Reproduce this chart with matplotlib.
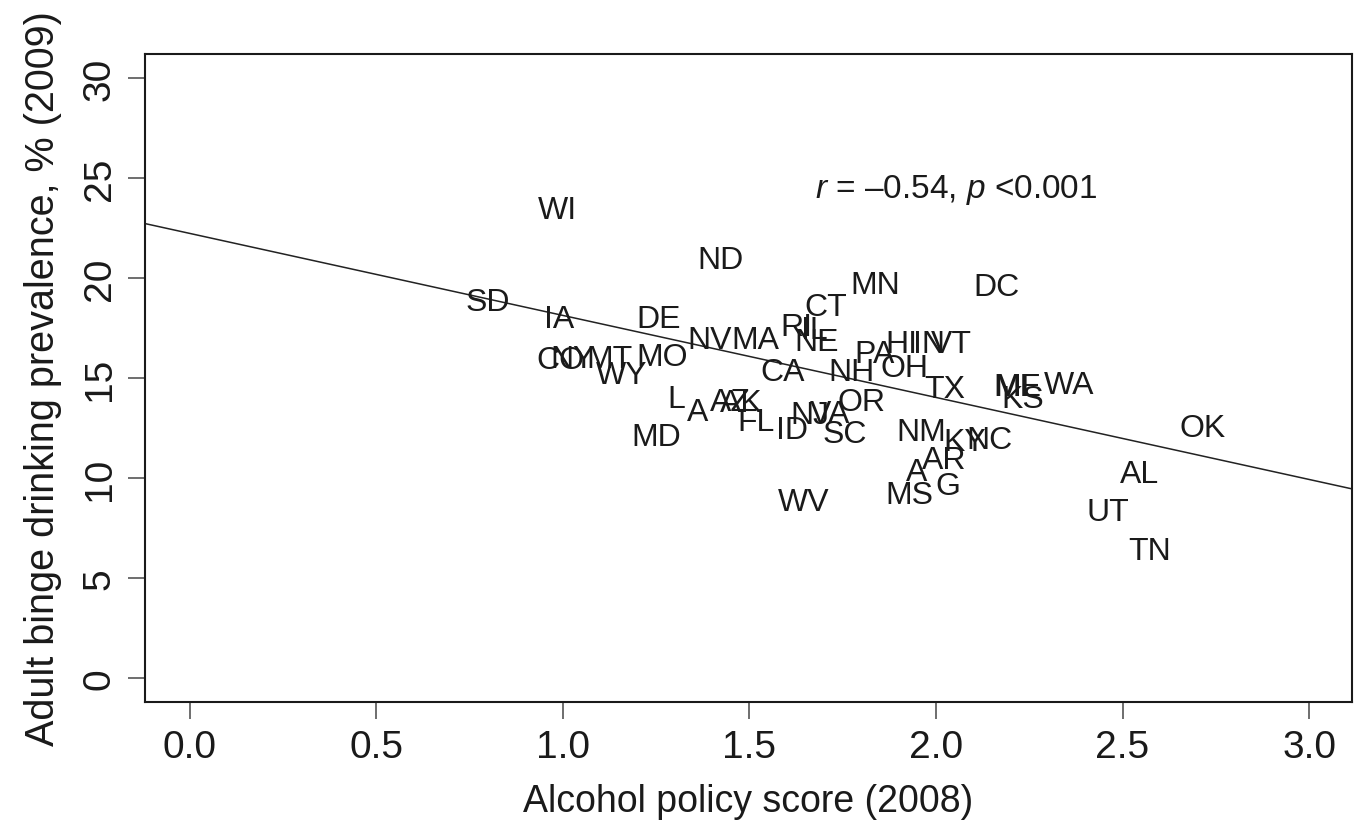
import matplotlib
matplotlib.use("Agg")
import matplotlib.pyplot as plt
import matplotlib.transforms as mtransforms
import numpy as np

plt.rcParams['font.family'] = ['Liberation Sans', 'DejaVu Sans']
plt.rcParams['mathtext.fontset'] = 'custom'
plt.rcParams['mathtext.rm'] = 'Liberation Sans'
plt.rcParams['mathtext.it'] = 'Liberation Sans:italic'

# ---- data ----
labels = ["WI", "ND", "SD", "IA", "DE", "CT", "MN", "DC", "NV", "MA", "NE", "RI", "IL",
          "HI", "IN", "VT", "PA", "NH", "OH", "CA", "TX", "MI", "ME", "KS", "WA", "OR",
          "OK", "SC", "NM", "KY", "NC", "AR", "A", "G", "MS", "MD", "WV", "AL", "UT",
          "TN", "FL", "ID", "NJ", "VA", "AZ", "AK", "L", "A", "CO", "NY", "MT", "WY", "MO"]
policy_score = [0.986, 1.423, 0.798, 0.991, 1.257, 1.704, 1.838, 2.162, 1.393, 1.517, 1.680,
                1.626, 1.675, 1.908, 1.980, 2.041, 1.835, 1.774, 1.916, 1.589, 2.023, 2.203,
                2.219, 2.232, 2.358, 1.801, 2.714, 1.755, 1.961, 2.077, 2.144, 2.023, 1.948,
                2.031, 1.929, 1.249, 1.645, 2.546, 2.460, 2.572, 1.519, 1.613, 1.661, 1.715,
                1.450, 1.479, 1.305, 1.361, 0.992, 1.027, 1.125, 1.158, 1.267]
binge_prev = [23.55, 21.05, 18.95, 18.1, 18.1, 18.7, 19.8, 19.7, 17.05, 17.05, 16.95,
              17.7, 17.55, 16.85, 16.85, 16.85, 16.35, 15.45, 15.65, 15.45, 14.6, 14.7,
              14.7, 14.1, 14.8, 13.95, 12.65, 12.35, 12.45, 11.95, 12.05, 11.05, 10.45,
              9.75, 9.3, 12.2, 8.95, 10.35, 8.45, 6.5, 12.95, 12.55, 13.3, 13.35,
              13.95, 13.9, 14.1, 13.45, 16.05, 16.1, 16.1, 15.3, 16.2]
fit_intercept = 22.23
fit_slope = -4.1
annotation = r"$r$ = –0.54, $p$ <0.001"
x_ticks = [0.0, 0.5, 1.0, 1.5, 2.0, 2.5, 3.0]
y_ticks = [0, 5, 10, 15, 20, 25, 30]

fig = plt.figure(figsize=(13.63, 8.37), dpi=100)
ax = fig.add_axes([0.1064, 0.160, 0.8855, 0.7743])

ax.set_xlim(-0.12, 3.115)
ax.set_ylim(-1.2, 31.2)

# regression line
xs = np.array(ax.get_xlim())
ax.plot(xs, fit_intercept + fit_slope * xs, color='#222222', lw=1.1, zorder=1)

# state labels centred on the points (cap-height centred, as in R text())
fs = 23
off = mtransforms.offset_copy(ax.transData, fig=fig, x=0, y=-0.716 * fs / 2, units='points')
for lab, xv, yv in zip(labels, policy_score, binge_prev):
    ax.text(xv, yv, lab, transform=off, ha='center', va='baseline',
            fontsize=fs, color='#1a1a1a', zorder=3)

ax.text(2.055, 24.45, annotation, ha='center', va='center', fontsize=24, color='#1a1a1a')

ax.set_xticks(x_ticks)
ax.set_xticklabels([f"{t:.1f}" for t in x_ticks])
ax.set_yticks(y_ticks)
ax.set_yticklabels([str(t) for t in y_ticks], rotation=90, va='center')

ax.tick_params(axis='both', direction='out', length=12.5, width=1.2, color='#555555',
               labelsize=28, labelcolor='#1a1a1a', pad=7)
for s in ax.spines.values():
    s.set_linewidth(1.5)
    s.set_color('#1a1a1a')

ax.set_xlabel("Alcohol policy score (2008)", fontsize=27, color='#1a1a1a', labelpad=13)
ax.set_ylabel("Adult binge drinking prevalence, % (2009)", fontsize=28.5, color='#1a1a1a',
              labelpad=14)

fig.savefig("out.png", dpi=100)
